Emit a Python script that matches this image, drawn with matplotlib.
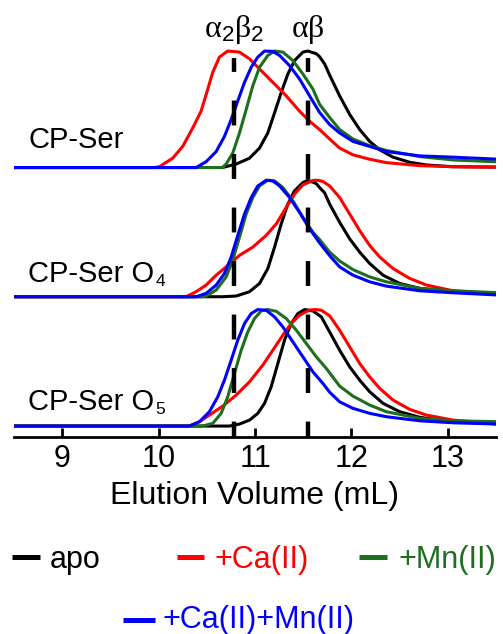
import matplotlib
matplotlib.use("Agg")
import matplotlib.pyplot as plt
from matplotlib.lines import Line2D

plt.rcParams['font.family'] = ['Liberation Sans', 'DejaVu Sans']
plt.rcParams['mathtext.fontset'] = 'custom'
plt.rcParams['mathtext.rm'] = 'Liberation Serif'
plt.rcParams['mathtext.sf'] = 'Liberation Sans'
plt.rcParams['mathtext.it'] = 'Liberation Serif:italic'

# ---- normalized SEC traces (elution volume in mL, normalized absorbance) ----
# CP-Ser
cpser_apo_x = [8.5, 10.662, 10.805, 10.943, 11.047, 11.133, 11.203, 11.272, 11.341, 11.410, 11.497, 11.549,
               11.636, 11.670, 11.722, 11.774, 11.878, 11.982, 12.086, 12.190, 12.294, 12.432, 12.605, 12.779,
               13.055, 13.54]
cpser_apo_y = [0, 0, 0.030, 0.080, 0.167, 0.297, 0.470, 0.644, 0.803, 0.918, 0.991, 1.0,
               0.977, 0.951, 0.890, 0.794, 0.615, 0.456, 0.326, 0.224, 0.152, 0.089, 0.045, 0.022,
               0.007, 0.004]
cpser_ca_x = [8.5, 9.95, 10.008, 10.146, 10.250, 10.354, 10.441, 10.510, 10.562, 10.631, 10.717, 10.839,
              10.943, 11.047, 11.185, 11.324, 11.462, 11.566, 11.670, 11.774, 11.878, 12.016, 12.190, 12.363,
              12.709, 13.055, 13.54]
cpser_ca_y = [0, 0, 0.007, 0.080, 0.181, 0.340, 0.484, 0.673, 0.818, 0.948, 1.0, 0.991,
              0.933, 0.846, 0.731, 0.615, 0.484, 0.398, 0.326, 0.245, 0.167, 0.109, 0.071, 0.042,
              0.016, 0.007, 0.002]
cpser_mn_x = [8.5, 10.662, 10.701, 10.769, 10.839, 10.909, 10.977, 11.047, 11.133, 11.203, 11.289, 11.393,
              11.497, 11.601, 11.670, 11.774, 11.878, 12.016, 12.190, 12.363, 12.709, 13.055, 13.54]
cpser_mn_y = [0, 0, 0.030, 0.123, 0.297, 0.499, 0.701, 0.861, 0.962, 1.0, 0.991, 0.918,
              0.803, 0.673, 0.543, 0.430, 0.326, 0.245, 0.187, 0.146, 0.094, 0.065, 0.048]
cpser_camn_x = [8.5, 10.389, 10.493, 10.597, 10.683, 10.753, 10.821, 10.891, 10.961, 11.029, 11.099, 11.185,
                11.255, 11.358, 11.462, 11.566, 11.670, 11.774, 11.878, 12.016, 12.190, 12.363, 12.709,
                13.055, 13.54]
cpser_camn_y = [0, 0, 0.050, 0.137, 0.267, 0.412, 0.571, 0.731, 0.861, 0.948, 1.0, 0.997,
                0.962, 0.875, 0.760, 0.615, 0.473, 0.369, 0.297, 0.224, 0.181, 0.137, 0.100,
                0.089, 0.071]

# CP-Ser O4
o4_apo_x = [8.5, 10.662, 10.805, 10.943, 11.047, 11.133, 11.203, 11.272, 11.341, 11.410, 11.497, 11.549,
            11.636, 11.670, 11.722, 11.774, 11.878, 11.982, 12.086, 12.190, 12.328, 12.501, 12.709, 13.055, 13.54]
o4_apo_y = [0, 0, 0.006, 0.043, 0.114, 0.242, 0.426, 0.625, 0.796, 0.909, 0.980, 1.0,
            0.971, 0.937, 0.892, 0.796, 0.639, 0.497, 0.383, 0.285, 0.185, 0.114, 0.072, 0.043, 0.023]
o4_ca_x = [8.5, 10.285, 10.389, 10.493, 10.597, 10.701, 10.839, 10.977, 11.116, 11.220, 11.324, 11.410,
           11.497, 11.601, 11.649, 11.704, 11.774, 11.878, 11.982, 12.086, 12.190, 12.294, 12.432, 12.605,
           12.779, 13.055, 13.54]
o4_ca_y = [0, 0, 0.043, 0.100, 0.185, 0.256, 0.355, 0.426, 0.526, 0.625, 0.767, 0.881,
           0.960, 0.998, 1.0, 0.990, 0.951, 0.852, 0.710, 0.568, 0.440, 0.341, 0.242, 0.157,
           0.100, 0.051, 0.023]
o4_mn_x = [8.5, 10.455, 10.493, 10.597, 10.701, 10.769, 10.839, 10.909, 10.977, 11.047, 11.133, 11.203,
           11.289, 11.393, 11.497, 11.601, 11.670, 11.774, 11.878, 12.016, 12.190, 12.363, 12.709, 13.055, 13.54]
o4_mn_y = [0, 0, 0.006, 0.057, 0.170, 0.313, 0.511, 0.710, 0.852, 0.951, 1.0, 0.994,
           0.937, 0.824, 0.681, 0.554, 0.491, 0.383, 0.307, 0.233, 0.170, 0.128, 0.072, 0.051, 0.034]
o4_camn_x = [8.5, 10.389, 10.493, 10.597, 10.683, 10.753, 10.821, 10.891, 10.961, 11.029, 11.116, 11.185,
             11.255, 11.358, 11.462, 11.566, 11.670, 11.774, 11.878, 12.016, 12.190, 12.363, 12.709, 13.055, 13.54]
o4_camn_y = [0, 0, 0.029, 0.100, 0.199, 0.341, 0.526, 0.710, 0.852, 0.951, 1.0, 0.994,
             0.951, 0.852, 0.724, 0.583, 0.462, 0.353, 0.256, 0.185, 0.128, 0.091, 0.051, 0.034, 0.014]

# CP-Ser O5
o5_apo_x = [8.5, 10.735, 10.839, 10.943, 11.029, 11.099, 11.168, 11.237, 11.306, 11.376, 11.445, 11.514,
            11.601, 11.688, 11.774, 11.878, 11.982, 12.086, 12.190, 12.328, 12.501, 12.709, 13.055, 13.54]
o5_apo_y = [0, 0, 0.017, 0.051, 0.109, 0.195, 0.337, 0.537, 0.737, 0.880, 0.966, 1.0,
            0.988, 0.937, 0.808, 0.651, 0.508, 0.394, 0.294, 0.195, 0.123, 0.075, 0.037, 0.017]
o5_ca_x = [8.5, 10.319, 10.423, 10.527, 10.665, 10.805, 10.943, 11.081, 11.185, 11.289, 11.376, 11.462,
           11.566, 11.629, 11.688, 11.774, 11.878, 11.982, 12.086, 12.190, 12.294, 12.432, 12.605, 12.779,
           13.055, 13.54]
o5_ca_y = [0, 0, 0.037, 0.094, 0.171, 0.266, 0.380, 0.523, 0.651, 0.780, 0.880, 0.951,
           0.996, 1.0, 0.994, 0.947, 0.823, 0.680, 0.537, 0.422, 0.323, 0.223, 0.143, 0.094,
           0.051, 0.017]
o5_mn_x = [8.5, 10.455, 10.562, 10.649, 10.717, 10.787, 10.857, 10.925, 10.995, 11.064, 11.133, 11.220,
           11.324, 11.428, 11.532, 11.636, 11.740, 11.878, 12.016, 12.190, 12.363, 12.709, 13.055, 13.54]
o5_mn_y = [0, 0, 0.023, 0.109, 0.251, 0.452, 0.651, 0.808, 0.923, 0.988, 1.0, 0.985,
           0.923, 0.823, 0.709, 0.594, 0.494, 0.343, 0.257, 0.180, 0.123, 0.066, 0.045, 0.037]
o5_camn_x = [8.5, 10.319, 10.423, 10.527, 10.614, 10.683, 10.753, 10.821, 10.891, 10.961, 11.029, 11.116,
             11.203, 11.289, 11.393, 11.497, 11.601, 11.704, 11.774, 11.878, 12.016, 12.190, 12.363, 12.709,
             13.055, 13.54]
o5_camn_y = [0, 0, 0.037, 0.123, 0.251, 0.394, 0.566, 0.737, 0.880, 0.966, 1.0, 0.994,
             0.937, 0.851, 0.722, 0.594, 0.465, 0.366, 0.291, 0.208, 0.152, 0.109, 0.080, 0.045,
             0.028, 0.017]

sample_names = ["CP-Ser", "CP-Ser O", "CP-Ser O"]
sample_subscripts = ["", "4", "5"]
condition_labels = ["apo", "+Ca(II)", "+Mn(II)", "+Ca(II)+Mn(II)"]
condition_colors = ["black", "#ff0000", "#1d6e1d", "#0000ff"]
oligomer_volumes = [10.78, 11.55]          # mL, alpha2beta2 and alphabeta markers
oligomer_labels = [r"$\mathrm{\alpha}_{\mathsf{2}}\mathrm{\beta}_{\mathsf{2}}$",
                   r"$\mathrm{\alpha\beta}$"]
x_ticks = [9, 10, 11, 12, 13]

panels = [
    [(cpser_apo_x, cpser_apo_y), (cpser_ca_x, cpser_ca_y), (cpser_mn_x, cpser_mn_y), (cpser_camn_x, cpser_camn_y)],
    [(o4_apo_x, o4_apo_y), (o4_ca_x, o4_ca_y), (o4_mn_x, o4_mn_y), (o4_camn_x, o4_camn_y)],
    [(o5_apo_x, o5_apo_y), (o5_ca_x, o5_ca_y), (o5_mn_x, o5_mn_y), (o5_camn_x, o5_camn_y)],
]
panel_offsets = [2.219, 1.110, 0.0]
label_heights = [2.386, 1.236, 0.137]

W, H = 503, 634
fig = plt.figure(figsize=(W / 100, H / 100), dpi=100)
ax = fig.add_axes([14 / W, (H - 437) / H, 482 / W, 437 / H])
ax.set_xlim(8.5, 13.5)
ax.set_ylim(-0.094, 3.657)

for traces, off in zip(panels, panel_offsets):
    for (xs, ys), col in zip(traces, condition_colors):
        ax.plot(xs, [v + off for v in ys], color=col, lw=2.2, solid_joinstyle='round', zorder=3)

for name, sub, yl in zip(sample_names, sample_subscripts, label_heights):
    t = ax.text(8.647, yl, name, fontsize=21, ha='left', va='baseline', zorder=4)
    if sub:
        ax.annotate(sub, xy=(1, 0), xycoords=t, xytext=(0.8, 1.8), textcoords='offset points',
                    fontsize=12.5, ha='left', va='baseline', zorder=4)

lw_dash = 3.2
for xv, lab in zip(oligomer_volumes, oligomer_labels):
    ax.plot([xv, xv], [3.159, -0.094], color='black', lw=lw_dash,
            linestyle=(2.47, (5.6, 6.44)), dash_capstyle='butt', zorder=5, clip_on=False)
    ax.text(xv, 3.339, lab, fontsize=23, ha='center', va='baseline', zorder=6)

for side in ['left', 'right', 'top']:
    ax.spines[side].set_visible(False)
ax.spines['bottom'].set_linewidth(2)
ax.set_yticks([])
ax.set_xticks(x_ticks)
ax.tick_params(axis='x', direction='in', length=6.5, width=2, labelsize=22, pad=5)
ax.set_xlabel("Elution Volume (mL)", fontsize=23, labelpad=5)

# legend drawn in figure pixels
legend_rows = [(12, 40, 50, 557, 568), (177, 204, 215, 557, 568),
               (359, 387, 398, 557, 568), (123, 155, 163, 620, 628)]
for (h0, h1, tx, hy, by), lab, col in zip(legend_rows, condition_labels, condition_colors):
    fig.add_artist(Line2D([h0 / W, h1 / W], [(H - hy) / H, (H - hy) / H], color=col, lw=3.6,
                          solid_capstyle='butt', transform=fig.transFigure))
    fig.text(tx / W, (H - by) / H, lab, color=col, fontsize=22, ha='left', va='baseline')

fig.savefig("out.png", dpi=100)
